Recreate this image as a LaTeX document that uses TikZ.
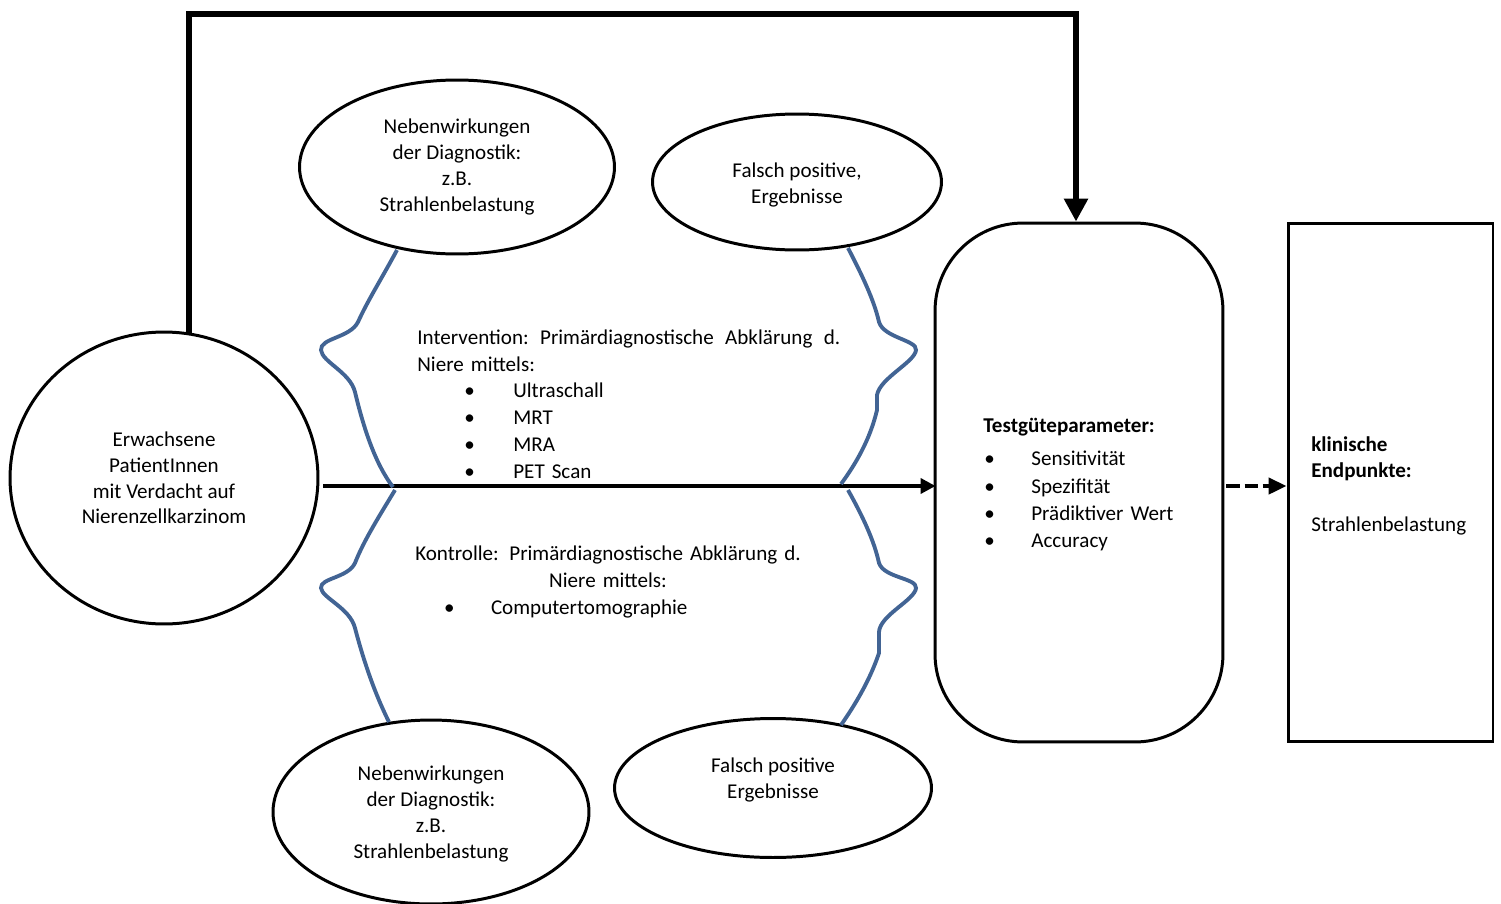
\documentclass[tikz,border=0pt]{standalone}
\usepackage{fontspec}
\setmainfont{Carlito}
\usetikzlibrary{shapes.geometric,arrows.meta,calc}
\definecolor{braceblue}{RGB}{66,100,148}
\tikzset{
  oval/.style={draw=black, line width=1.7pt, ellipse, inner sep=0pt, align=center,
    font=\fontsize{12pt}{14.7pt}\selectfont},
  ovaltext/.style={inner sep=0pt, align=center, font=\fontsize{12pt}{14.7pt}\selectfont},
  brace/.style={draw=braceblue, line width=2.2pt},
  txt/.style={inner sep=0pt, font=\fontsize{12pt}{15.2pt}\selectfont},
  bigarrow/.style={line width=3.4pt, -{Triangle[length=0.46cm,width=0.46cm]}},
  midarrow/.style={line width=2.3pt, -{Triangle[length=0.3cm,width=0.3cm]}},
  dasharrow/.style={line width=2.5pt, dash pattern=on 7.5pt off 2.8pt, -{Triangle[length=0.36cm,width=0.32cm]}},
}
\newcommand{\bul}{\makebox[0.98cm][l]{\textbullet}}
\begin{document}
\hyphenpenalty=10000
\begin{tikzpicture}[x=0.02cm, y=-0.02cm]
\useasboundingbox (0,0) rectangle (1501,903);

% nodes
\node[oval, minimum width=6.16cm, minimum height=5.84cm] (pat) at (164,478)
  {Erwachsene\\PatientInnen\\mit Verdacht auf\\Nierenzellkarzinom};
\node[oval, minimum width=6.3cm, minimum height=3.48cm] (ne1) at (457,167)
  {Nebenwirkungen\\der Diagnostik:\\z.B.\\Strahlenbelastung};
\node[oval, minimum width=5.78cm, minimum height=2.72cm] (fp1) at (797,182) {};
\node[ovaltext] (fp1t) at (797,185) {Falsch positive,\\Ergebnisse};
\node[oval, minimum width=6.32cm, minimum height=3.68cm] (ne2) at (431,812) {};
\node[ovaltext] (ne2t) at (431,814)
  {Nebenwirkungen\\der Diagnostik:\\z.B.\\Strahlenbelastung};
\node[oval, minimum width=6.34cm, minimum height=2.78cm] (fp2) at (773,788) {};
\node[ovaltext] (fp2t) at (773,780) {Falsch positive\\Ergebnisse};

\node[draw, line width=1.7pt, rounded corners=1.76cm, minimum width=5.76cm,
  minimum height=10.38cm, inner sep=0pt] (test) at (1079,482.5) {};
\node[draw, line width=1.7pt, minimum width=4.1cm, minimum height=10.38cm,
  inner sep=0pt] (endp) at (1390.5,482.5) {};

% texts
\node[txt, anchor=west, text width=8.46cm, align=left] (interv) at (417,404)
  {\hbox to \linewidth{Intervention:\hfill Primärdiagnostische\hfill Abklärung\hfill d.}\\
   Niere mittels:\\
   \hspace*{0.94cm}\bul Ultraschall\\
   \hspace*{0.94cm}\bul MRT\\
   \hspace*{0.94cm}\bul MRA\\
   \hspace*{0.94cm}\bul PET Scan};
\node[txt, text width=9cm, align=center] (kontr) at (608,582)
  {Kontrolle: Primärdiagnostische Abklärung d.\\
   Niere mittels:\\
   \makebox[\linewidth][l]{\hspace*{1.22cm}\makebox[0.94cm][l]{\textbullet}Computertomographie}};
\node[txt, anchor=west, text width=4.5cm, align=left,
  font=\fontsize{12pt}{15.6pt}\selectfont] (tgp) at (983,485)
  {\textbf{Testgüteparameter:}\\[3pt]
   \hspace*{0.02cm}\makebox[0.94cm][l]{\textbullet}Sensitivität\\
   \hspace*{0.02cm}\makebox[0.94cm][l]{\textbullet}Spezifität\\
   \hspace*{0.02cm}\makebox[0.94cm][l]{\textbullet}Prädiktiver Wert\\
   \hspace*{0.02cm}\makebox[0.94cm][l]{\textbullet}Accuracy};
\node[txt, anchor=west, text width=3.7cm, align=left] (klin) at (1311,485.5)
  {\textbf{klinische}\\\textbf{Endpunkte:}\\[15.2pt]Strahlenbelastung};

% connectors
\coordinate (topc) at (189,14);
\coordinate (midy) at (0,486);
\draw[bigarrow] (topc |- pat.north) ++(0,2) -- (topc) -| ([xshift=-0.06cm]test.north);
\draw[midarrow] (pat.east |- midy) ++(4,0) -- ([xshift=0.04cm]test.west |- midy);
\draw[dasharrow] (test.east |- midy) ++(2,0) -- (endp.west |- midy);

% braces
\draw[brace] (397,250) .. controls (382,278) and (368,300) .. (358,322)
  .. controls (350,338) and (320,338) .. (321,350)
  .. controls (322,362) and (350,372) .. (355,392)
  .. controls (364,430) and (376,465) .. (393,487);
\draw[brace] (848,248) .. controls (862,275) and (874,300) .. (879,322)
  .. controls (884,338) and (917,340) .. (916,350)
  .. controls (915,362) and (880,378) .. (877,395)
  -- (877,410) .. controls (870,440) and (855,465) .. (841,484);
\draw[brace] (395,490) .. controls (380,515) and (364,540) .. (355,563)
  .. controls (348,578) and (320,578) .. (321,588)
  .. controls (322,598) and (350,608) .. (355,628)
  .. controls (366,670) and (378,700) .. (389,722);
\draw[brace] (848,490) .. controls (862,515) and (874,540) .. (879,563)
  .. controls (884,578) and (917,578) .. (916,588)
  .. controls (915,600) and (880,615) .. (879,632)
  -- (879,653) .. controls (870,680) and (855,705) .. (841,725);
\end{tikzpicture}
\end{document}
